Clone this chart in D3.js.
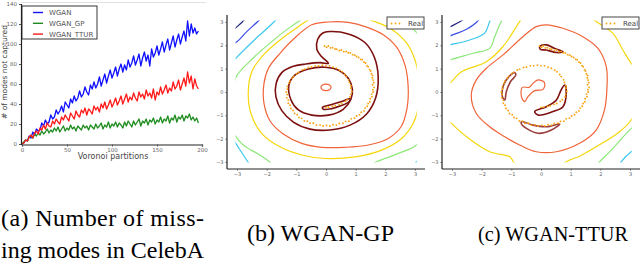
<!DOCTYPE html>
<html>
<head>
<meta charset="utf-8">
<script src="https://cdn.jsdelivr.net/npm/d3@7"></script>
<style>
  html, body { margin: 0; padding: 0; background: #fff; }
  svg { display: block; }
  .caption { font-family: "Liberation Serif", "Times New Roman", Times, "DejaVu Serif", serif; font-size: 24px; fill: #000; }
</style>
</head>
<body>
<svg id="chart" width="640" height="267"></svg>
<script>
// ---- (a) missing modes ----
const partitions = [
  0, 2, 4, 6, 8, 10, 12, 14, 16, 18,
  20, 22, 24, 26, 28, 30, 32, 34, 36, 38,
  40, 42, 44, 46, 48, 50, 52, 54, 56, 58,
  60, 62, 64, 66, 68, 70, 72, 74, 76, 78,
  80, 82, 84, 86, 88, 90, 92, 94, 96, 98,
  100, 102, 104, 106, 108, 110, 112, 114, 116, 118,
  120, 122, 124, 126, 128, 130, 132, 134, 136, 138,
  140, 142, 144, 146, 148, 150, 152, 154, 156, 158,
  160, 162, 164, 166, 168, 170, 172, 174, 176, 178,
  180, 182, 184, 186, 188, 190, 192, 194, 196
];
const wgan = [
  0, 1, 4, 3, 8, 6, 12, 9, 15, 13,
  14, 21, 18, 24, 20, 22, 29, 25, 27, 34,
  30, 33, 38, 32, 42, 39, 36, 45, 41, 48,
  43, 46, 53, 47, 50, 57, 52, 49, 59, 55,
  62, 56, 60, 67, 58, 64, 70, 61, 68, 74,
  66, 71, 77, 68, 75, 80, 72, 79, 74, 84,
  77, 81, 88, 79, 84, 90, 78, 86, 92, 83,
  89, 78, 95, 87, 91, 98, 89, 95, 102, 92,
  99, 105, 94, 101, 108, 97, 104, 110, 100, 107,
  113, 103, 123, 108, 120, 111, 116, 110, 113
];
const wganGp = [
  0, 2, 4, 3, 7, 8, 6, 10, 8, 11,
  9, 13, 10, 12, 15, 11, 14, 12, 16, 13,
  17, 12, 15, 18, 13, 16, 14, 19, 15, 17,
  13, 18, 16, 14, 19, 16, 18, 14, 19, 17,
  15, 20, 16, 18, 21, 15, 19, 17, 22, 16,
  20, 18, 22, 17, 21, 19, 16, 22, 18, 23,
  20, 17, 23, 19, 22, 25, 18, 23, 21, 25,
  19, 24, 22, 26, 20, 24, 22, 27, 21, 25,
  23, 28, 21, 26, 24, 29, 22, 27, 25, 29,
  23, 28, 26, 30, 24, 27, 23, 26, 21
];
const wganTtur = [
  0, 1, 4, 3, 7, 9, 6, 11, 13, 10,
  16, 14, 19, 15, 21, 18, 17, 23, 20, 25,
  22, 20, 27, 24, 29, 26, 23, 31, 28, 25,
  33, 29, 27, 34, 31, 36, 29, 35, 33, 30,
  38, 34, 37, 32, 40, 36, 42, 35, 39, 44,
  37, 41, 46, 39, 43, 48, 40, 45, 50, 42,
  47, 44, 51, 46, 43, 52, 47, 50, 45, 54,
  48, 51, 46, 55, 44, 52, 49, 57, 50, 54,
  59, 51, 56, 53, 62, 55, 58, 64, 54, 60,
  66, 58, 72, 61, 68, 55, 65, 58, 55
];
const seriesNames = ['WGAN', 'WGAN_GP', 'WGAN_TTUR'];
const modeTicks = [0, 20, 40, 60, 80, 100, 120, 140];
const partitionTicks = [0, 50, 100, 150, 200];

// ---- (b)/(c) real data spiral and critic contours ----
const realPoints = [
  [-0.05, 1.97], [0.02, 1.92], [0.08, 1.97], [0.15, 1.89], [0.22, 1.90], [0.30, 1.84], [0.36, 1.83], [0.45, 1.78],
  [0.52, 1.80], [0.60, 1.73], [0.68, 1.74], [0.75, 1.68], [0.82, 1.67], [0.90, 1.60], [0.97, 1.58], [1.03, 1.52],
  [1.10, 1.48], [1.17, 1.40], [1.22, 1.38], [1.28, 1.28], [1.33, 1.24], [1.38, 1.13], [1.42, 1.08], [1.47, 0.96],
  [1.50, 0.90], [1.53, 0.78], [1.57, 0.71], [1.56, 0.60], [1.59, 0.51], [1.61, 0.40], [1.57, 0.31], [1.62, 0.20],
  [1.58, 0.10], [1.59, 0.00], [1.54, -0.09], [1.55, -0.20], [1.49, -0.29], [1.48, -0.42], [1.42, -0.49], [1.39, -0.61],
  [1.32, -0.69], [1.28, -0.81], [1.19, -0.87], [1.13, -0.97], [1.03, -1.03], [0.96, -1.12], [0.85, -1.15], [0.77, -1.25],
  [0.66, -1.26], [0.57, -1.34], [0.45, -1.35], [0.35, -1.42], [0.24, -1.40], [0.13, -1.46], [0.02, -1.43], [-0.10, -1.46],
  [-0.20, -1.41], [-0.32, -1.42], [-0.43, -1.34], [-0.54, -1.34], [-0.63, -1.25], [-0.73, -1.24], [-0.82, -1.13], [-0.91, -1.09],
  [-0.97, -0.97], [-1.06, -0.92], [-1.11, -0.79], [-1.18, -0.71], [-1.21, -0.57], [-1.27, -0.48], [-1.27, -0.35], [-1.32, -0.25],
  [-1.31, -0.11], [-1.34, 0.00], [-1.30, 0.13], [-1.30, 0.24], [-1.25, 0.37], [-1.22, 0.46], [-1.14, 0.59], [-1.09, 0.67],
  [-0.99, 0.78], [-0.92, 0.84], [-0.80, 0.94], [-0.72, 0.98], [-0.59, 1.05], [-0.49, 1.07], [-0.36, 1.12], [-0.25, 1.12],
  [-0.12, 1.15], [0.00, 1.12], [0.12, 1.12], [0.24, 1.06], [0.35, 1.02], [0.46, 0.93], [0.54, 0.87], [0.63, 0.75],
  [0.68, 0.66], [0.76, 0.52], [0.79, 0.41], [0.84, 0.27], [0.84, 0.16], [0.87, 0.02], [0.83, -0.10], [0.81, -0.21],
  [0.72, -0.33], [0.65, -0.40], [0.53, -0.49], [0.44, -0.53], [0.31, -0.59], [0.22, -0.61], [0.09, -0.65], [0.00, -0.66]
];
const gridTicks = [-3, -2, -1, 0, 1, 2, 3];
const levelNames = ['navy', 'blue', 'cyan', 'green', 'yellow', 'orange', 'darkred', 'brown'];

const gpContours = [
  { level: 0, closed: false, points: [[-3.3, 2.45], [-3.06, 2.73], [-2.84, 2.98], [-2.6, 3.3]] },
  { level: 1, closed: false, points: [[-3.4, 1.95], [-3.04, 2.12], [-2.67, 2.59], [-2.30, 3.02], [-2.0, 3.4]] },
  { level: 2, closed: true, points: [[-3.04, 1.44], [-2.39, 2.26], [-1.74, 3.02], [-1.2, 3.8], [1.0, 4.3], [3.5, 3.8], [4.2, 1.0],
      [3.8, -2.5], [3.06, -2.98], [2.9, -3.3], [0.0, -3.9], [-2.4, -3.4], [-2.63, -3.0], [-3.04, -2.2], [-3.5, -1.3], [-3.7, 0.5]] },
  { level: 3, closed: true, points: [[-3.05, 0.6], [-2.5, 1.40], [-1.83, 2.16], [-1.21, 2.78], [-0.88, 3.06], [-0.4, 3.6], [1.0, 3.9],
      [2.4, 3.3], [2.9, 2.75], [3.35, 2.0], [3.55, 0.0], [3.4, -1.6], [3.05, -2.27], [2.4, -2.65], [1.71, -2.99], [1.2, -3.35],
      [0.0, -3.7], [-1.6, -3.4], [-1.9, -3.0], [-2.3, -2.65], [-2.85, -2.2], [-3.25, -1.3], [-3.12, -0.4]] },
  { level: 4, closed: true, points: [[1.63, 3.02], [2.21, 2.69], [2.72, 2.09], [3.0, 1.37], [3.13, 0.52], [3.11, -0.63], [2.94, -1.34],
      [2.55, -1.99], [1.87, -2.49], [0.98, -2.78], [-0.03, -2.85], [-0.82, -2.70], [-1.55, -2.35], [-2.17, -1.77], [-2.53, -0.92],
      [-2.62, 0.01], [-2.50, 0.87], [-2.11, 1.59], [-1.55, 2.23], [-0.93, 2.80], [-0.48, 3.16], [0.5, 3.45]] },
  { level: 5, closed: true, points: [[-0.48, 2.88], [0.08, 3.0], [0.75, 2.98], [1.37, 2.78], [1.93, 2.45], [2.38, 1.92], [2.66, 1.16],
      [2.77, 0.23], [2.73, -0.70], [2.53, -1.49], [2.10, -1.99], [1.43, -2.27], [0.64, -2.37], [-0.15, -2.37], [-0.82, -2.20],
      [-1.44, -1.80], [-1.89, -1.23], [-2.09, -0.49], [-2.09, 0.37], [-1.94, 1.02], [-1.55, 1.66], [-1.10, 2.26]] },
  { level: 5, closed: true, points: [[0.17, 0.2], [0.12, 0.30], [0.0, 0.34], [-0.12, 0.30], [-0.17, 0.2], [-0.12, 0.10], [0.0, 0.06], [0.12, 0.10]] },
  { level: 6, closed: true, points: [[0.13, 2.59], [0.75, 2.49], [1.31, 2.12], [1.63, 1.49], [1.76, 0.63], [1.67, -0.27], [1.37, -0.94],
      [0.81, -1.42], [0.13, -1.63], [-0.54, -1.59], [-1.10, -1.29], [-1.49, -0.80], [-1.69, -0.20], [-1.68, 0.37], [-1.49, 0.83],
      [-1.13, 1.09], [-0.68, 1.20], [-0.20, 1.26], [0.08, 1.23], [-0.15, 1.52], [-0.31, 1.83], [-0.28, 2.26], [-0.12, 2.52]] },
  { level: 6, closed: true, points: [[-1.25, 0.30], [-1.04, 0.73], [-0.59, 0.99], [-0.03, 1.06], [0.44, 0.92], [0.75, 0.59], [0.89, 0.11],
      [0.84, -0.31], [0.58, -0.74], [0.08, -0.99], [-0.48, -0.99], [-0.93, -0.77], [-1.18, -0.34]] },
  { level: 6, closed: true, points: [[-0.12, -0.66], [0.13, -0.56], [0.53, -0.41], [0.81, -0.29], [0.77, -0.43], [0.47, -0.60], [0.13, -0.73], [-0.09, -0.74]] }
];

const tturContours = [
  { level: 0, closed: false, points: [[-3.3, 2.6], [-3.08, 2.78], [-2.72, 3.02], [-2.4, 3.3]] },
  { level: 1, closed: false, points: [[-3.4, 2.25], [-3.08, 2.40], [-2.51, 2.69], [-2.18, 2.98], [-1.9, 3.4]] },
  { level: 2, closed: true, points: [[-3.08, 2.02], [-2.40, 2.23], [-1.90, 2.52], [-1.73, 3.02], [-1.5, 3.6], [1.0, 4.3], [3.8, 3.5],
      [4.2, 0.0], [3.6, -2.2], [3.04, -2.56], [2.70, -2.99], [2.5, -3.4], [0.0, -4.0], [-3.5, -3.5], [-3.8, 0.0], [-3.5, 1.9]] },
  { level: 3, closed: true, points: [[-3.08, 1.37], [-2.29, 1.66], [-1.73, 1.87], [-1.56, 2.37], [-1.34, 3.02], [-1.1, 3.5], [1.0, 4.0],
      [3.5, 3.2], [3.8, 0.0], [3.4, -1.2], [3.04, -1.56], [2.37, -2.49], [1.92, -3.06], [1.6, -3.5], [0.0, -3.8], [-3.0, -3.5],
      [-3.6, -1.0], [-3.5, 1.2]] },
  { level: 4, closed: true, points: [[-0.72, 3.02], [-1.28, 1.95], [-1.84, 1.30], [-2.68, 0.87], [-2.96, 0.52], [-3.3, 0.0], [-3.3, -1.0],
      [-3.08, -1.27], [-2.51, -1.92], [-1.73, -2.56], [-1.05, -2.78], [-0.9, -3.05], [-0.5, -3.5], [0.5, -3.4], [0.85, -2.99],
      [1.30, -2.75], [1.86, -2.35], [2.65, -1.70], [3.04, -1.20], [3.3, -0.5], [3.3, 0.8], [3.04, 1.23], [2.76, 1.80], [2.42, 2.52],
      [1.86, 3.02], [1.4, 3.5], [0.0, 3.6], [-0.5, 3.4]] },
  { level: 5, closed: true, points: [[0.18, 2.88], [0.74, 2.73], [1.41, 2.37], [1.92, 1.87], [2.20, 1.09], [2.22, 0.09], [2.14, -0.77],
      [1.86, -1.63], [1.30, -2.20], [0.52, -2.56], [-0.16, -2.56], [-0.72, -2.27], [-1.22, -1.92], [-1.73, -1.49], [-2.18, -0.92],
      [-2.35, -0.13], [-2.18, 0.52], [-1.84, 1.02], [-1.28, 1.59], [-0.61, 2.37], [-0.16, 2.80]] },
  { level: 5, closed: true, points: [[-0.10, 0.52], [0.12, 0.40], [0.07, 0.11], [-0.21, 0.06], [-0.44, -0.20], [-0.55, -0.41],
      [-0.66, -0.20], [-0.63, 0.20], [-0.40, 0.20], [-0.27, 0.37]] },
  { level: 6, closed: true, points: [[-0.04, 1.95], [0.18, 2.02], [0.46, 1.87], [0.74, 1.73], [0.52, 1.69], [0.18, 1.80], [-0.02, 1.83]] },
  { level: 7, closed: true, points: [[-0.89, 0.83], [-1.08, 0.66], [-1.26, 0.30], [-1.30, -0.20], [-1.22, -0.34], [-1.17, 0.01], [-1.03, 0.44], [-0.85, 0.73]] },
  { level: 6, closed: true, points: [[0.80, 0.30], [0.85, -0.06], [0.74, -0.63], [0.40, -0.84], [-0.10, -0.99], [-0.21, -0.84], [0.18, -0.63], [0.52, -0.34], [0.68, 0.09]] },
  { level: 7, closed: true, points: [[-0.66, -1.27], [-0.27, -1.42], [0.18, -1.49], [0.63, -1.37], [0.35, -1.63], [-0.10, -1.77], [-0.49, -1.56], [-0.66, -1.37]] }
];

const captions = {
  a: ['(a) Number of miss-', 'ing modes in CelebA'],
  b: '(b) WGAN-GP',
  c: '(c) WGAN-TTUR'
};

// ---------------- drawing ----------------
const svg = d3.select('#chart');
svg.append('rect').attr('width', 640).attr('height', 267).attr('fill', '#fff');

const seriesColors = ['#1010ff', '#1e8c1e', '#ff1a1a'];
const levelColors = {
  navy: '#26267f', blue: '#3b4ee6', cyan: '#3cc8ef', green: '#8ce878',
  yellow: '#f5d70c', orange: '#f0643a', darkred: '#7c0f0f', brown: '#9a3c3c'
};
const tickFont = "'DejaVu Sans', sans-serif";

// (a) line chart
const xA = d3.scaleLinear().domain([0, 200]).range([22, 202]);
const yA = d3.scaleLinear().domain([0, 140]).range([144, 4]);

const gA = svg.append('g');
gA.append('line').attr('x1', 21).attr('x2', 206).attr('y1', 2.5).attr('y2', 2.5)
    .attr('stroke', '#e2e2e2').attr('stroke-width', 1);

const series = [wgan, wganGp, wganTtur];
const lineA = d3.line().x((d, i) => xA(partitions[i])).y(d => yA(d));
series.forEach((s, k) => {
    gA.append('path')
        .attr('d', lineA(s))
        .attr('fill', 'none')
        .attr('stroke', seriesColors[k])
        .attr('stroke-width', 1.3)
        .attr('stroke-linejoin', 'round');
});

const axA_y = gA.append('g').attr('transform', 'translate(21,0)')
    .call(d3.axisLeft(yA).tickValues(modeTicks).tickSize(2).tickPadding(2));
const axA_x = gA.append('g').attr('transform', 'translate(0,144.5)')
    .call(d3.axisBottom(xA).tickValues(partitionTicks).tickSize(2).tickPadding(2));
[axA_y, axA_x].forEach(ax => {
    ax.select('.domain').attr('stroke', '#222').attr('stroke-width', 1.2);
    ax.selectAll('.tick line').attr('stroke', '#555');
    ax.selectAll('.tick text').attr('font-size', 5.5).attr('font-family', tickFont).attr('fill', '#666');
});

gA.append('text').attr('x', 113).attr('y', 159)
    .attr('text-anchor', 'middle').attr('font-size', 8).attr('font-family', tickFont).attr('fill', '#444')
    .text('Voronoi partitions');
gA.append('text').attr('transform', 'translate(7,72) rotate(-90)')
    .attr('text-anchor', 'middle').attr('font-size', 7.5).attr('font-family', tickFont).attr('fill', '#444')
    .text('# of modes not captured');

// legend (a)
const legA = gA.append('g');
legA.append('rect').attr('x', 22).attr('y', 6).attr('width', 75).attr('height', 33)
    .attr('fill', '#fff').attr('stroke', '#222').attr('stroke-width', 0.9);
seriesNames.forEach((name, k) => {
    const yy = 12.5 + k * 10.8;
    legA.append('line').attr('x1', 33).attr('x2', 43).attr('y1', yy).attr('y2', yy)
        .attr('stroke', seriesColors[k]).attr('stroke-width', 1.4);
    legA.append('text').attr('x', 49).attr('y', yy + 2.5)
        .attr('font-size', 7).attr('font-family', tickFont).attr('fill', '#555').text(name);
});

// (b), (c) contour panels
function drawPanel(x0, contours, clipId) {
    const x = d3.scaleLinear().domain([-3, 3]).range([x0 + 10, x0 + 188]);
    const y = d3.scaleLinear().domain([-3, 3]).range([162, 22]);
    const g = svg.append('g');

    g.append('clipPath').attr('id', clipId).append('rect')
        .attr('x', x(-3.05)).attr('y', y(3.06))
        .attr('width', x(3.06) - x(-3.05)).attr('height', y(-3.02) - y(3.06));

    const cg = g.append('g').attr('clip-path', `url(#${clipId})`);
    contours.forEach(c => {
        const line = d3.line().x(d => x(d[0])).y(d => y(d[1]))
            .curve(c.closed ? d3.curveCatmullRomClosed.alpha(0.5) : d3.curveCatmullRom.alpha(0.5));
        cg.append('path')
            .attr('d', line(c.points))
            .attr('fill', 'none')
            .attr('stroke', levelColors[levelNames[c.level]])
            .attr('stroke-width', c.level >= 6 ? 1.6 : 1.2);
    });

    g.append('g').selectAll('circle').data(realPoints).join('circle')
        .attr('cx', d => x(d[0])).attr('cy', d => y(d[1])).attr('r', 0.95)
        .attr('fill', '#f9a313');

    const left = x0, bottom = 169;
    const fmt = d3.format('d');
    const axY = g.append('g').attr('transform', `translate(${left},0)`)
        .call(d3.axisLeft(y).tickValues(gridTicks).tickFormat(fmt).tickSize(1.5).tickPadding(2));
    axY.select('.domain').attr('d', `M0,15V${bottom}`);
    const axX = g.append('g').attr('transform', `translate(0,${bottom})`)
        .call(d3.axisBottom(x).tickValues(gridTicks).tickFormat(fmt).tickSize(1.5).tickPadding(2));
    axX.select('.domain').attr('d', `M${left},0H${left + 198}`);
    [axY, axX].forEach(ax => {
        ax.select('.domain').attr('stroke', '#222').attr('stroke-width', 1.2);
        ax.selectAll('.tick line').attr('stroke', '#555');
        ax.selectAll('.tick text').attr('font-size', 5).attr('font-family', tickFont).attr('fill', '#666');
    });

    // legend
    const lx = left + 160;
    const leg = g.append('g');
    leg.append('rect').attr('x', lx).attr('y', 17).attr('width', 37).attr('height', 12)
        .attr('fill', '#fff').attr('stroke', '#333').attr('stroke-width', 0.9);
    [0, 4, 8].forEach(dx => {
        leg.append('circle').attr('cx', lx + 4.5 + dx).attr('cy', 23.5).attr('r', 0.9).attr('fill', '#f9a313');
    });
    leg.append('text').attr('x', lx + 21).attr('y', 26).attr('font-size', 7)
        .attr('font-family', tickFont).attr('fill', '#444').text('Real');
}
drawPanel(227, gpContours, 'clipB');
drawPanel(442, tturContours, 'clipC');

// captions
svg.append('text').attr('class', 'caption').attr('x', 1).attr('y', 226)
    .attr('textLength', 203).attr('lengthAdjust', 'spacing').text(captions.a[0]);
svg.append('text').attr('class', 'caption').attr('x', 1).attr('y', 258)
    .attr('textLength', 203).attr('lengthAdjust', 'spacingAndGlyphs').text(captions.a[1]);
svg.append('text').attr('class', 'caption').attr('x', 247).attr('y', 241)
    .attr('textLength', 147).attr('lengthAdjust', 'spacingAndGlyphs').text(captions.b);
svg.append('text').attr('class', 'caption').attr('x', 478).attr('y', 241)
    .style('font-size', '21.5px')
    .attr('textLength', 150).attr('lengthAdjust', 'spacingAndGlyphs').text(captions.c);
</script>
</body>
</html>
